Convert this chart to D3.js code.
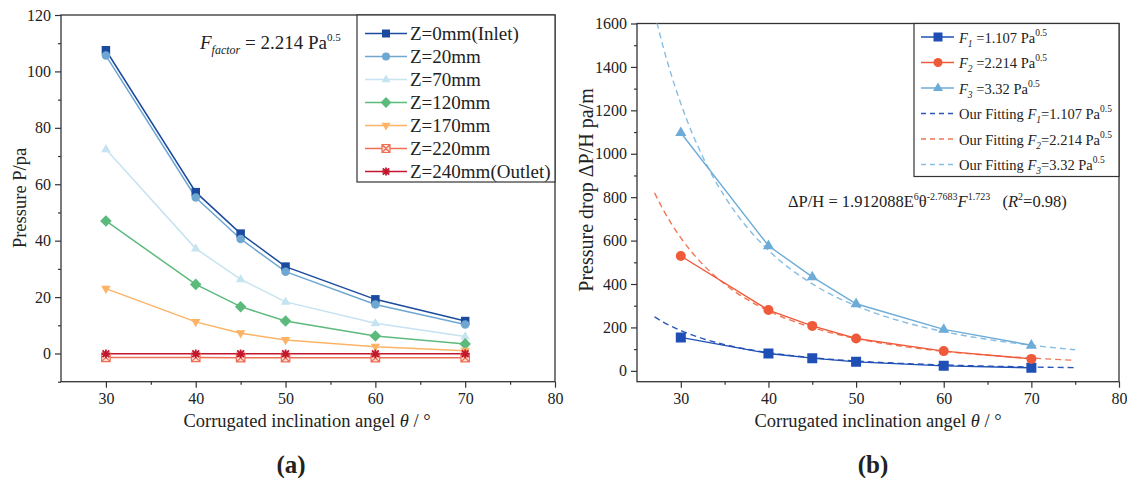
<!DOCTYPE html>
<html><head><meta charset="utf-8">
<script src="https://cdn.jsdelivr.net/npm/d3@7"></script>
<style>
html,body{margin:0;padding:0;background:#fff;}
svg text{font-family:"Liberation Serif","Times New Roman",serif;fill:#222;}
</style></head>
<body><svg id="c" width="1127" height="478"></svg>
<script>
// ---------- DATA ----------
const thetaA = [30, 40, 45, 50, 60, 70];
const zLabels = ["Z=0mm(Inlet)", "Z=20mm", "Z=70mm", "Z=120mm", "Z=170mm", "Z=220mm", "Z=240mm(Outlet)"];
const z0   = [107.5, 57.2, 42.5, 30.8, 19.2, 11.5];
const z20  = [105.6, 55.3, 40.6, 29.0, 17.4, 10.3];
const z70  = [72.4, 37.2, 26.3, 18.3, 10.7, 6.0];
const z120 = [47.0, 24.5, 16.6, 11.5, 6.2, 3.4];
const z170 = [23.0, 11.2, 7.2, 4.8, 2.4, 1.0];
const z220 = [-1.4, -1.4, -1.5, -1.5, -1.5, -1.5];
const z240 = [-0.1, -0.1, -0.1, -0.1, -0.1, -0.1];
const xTicks = [30, 40, 50, 60, 70, 80];
const yTicksA = [0, 20, 40, 60, 80, 100, 120];
const yTicksB = [0, 200, 400, 600, 800, 1000, 1200, 1400, 1600];

const thetaB = [30, 40, 45, 50, 60, 70];
const f1 = [154, 80, 58.5, 41.5, 23, 14];
const f2 = [529, 280, 207, 149, 91, 55];
const f3 = [1097, 576, 433, 309, 191, 118];
const fitTheta = [27, 28, 30, 32.5, 35, 37.5, 40, 45, 50, 55, 60, 65, 70, 75];
const fit1 = [248.4, 224.6, 185.5, 148.7, 121.1, 100.0, 83.7, 60.4, 45.1, 34.6, 27.2, 21.8, 17.8, 14.7];
const fit2 = [819.9, 741.4, 612.5, 490.7, 399.7, 330.2, 276.2, 199.3, 148.9, 114.4, 89.9, 72.0, 58.7, 48.5];
const fit3 = [1648, 1490.2, 1231.0, 986.4, 803.4, 663.7, 555.2, 400.6, 299.3, 229.9, 180.7, 144.8, 117.9, 97.4];

// ---------- STYLE ----------
const svg = d3.select("#c");
const axisCol = "#333";
const colsA = ["#1b4b9f", "#6ea7d1", "#c5e3f0", "#5dba7d", "#fdb366", "#ef6f55", "#c3172e"];
const symsA = ["square", "circle", "triangle", "diamond", "tridown", "sqx", "ast"];
const colsB = ["#1f4fb4", "#ef5b3a", "#6eacd8"];
const colsFit = ["#2a56b8", "#f07756", "#86bde3"];

function markerPath(type, s) {
  const h = s / 2;
  switch (type) {
    case "square": return `M${-h},${-h}H${h}V${h}H${-h}Z`;
    case "circle": return d3.symbol(d3.symbolCircle, Math.PI * h * h)();
    case "triangle": { const r = s * 0.62; return `M0,${-r}L${r*0.9},${r*0.55}L${-r*0.9},${r*0.55}Z`; }
    case "tridown": { const r = s * 0.62; return `M0,${r}L${r*0.9},${-r*0.55}L${-r*0.9},${-r*0.55}Z`; }
    case "diamond": { const r = s * 0.68; return `M0,${-r}L${r},0L0,${r}L${-r},0Z`; }
    case "sqx": return `M${-h},${-h}H${h}V${h}H${-h}Z M${-h},${-h}L${h},${h} M${h},${-h}L${-h},${h}`;
    case "ast": return `M${-h},0H${h} M0,${-h}V${h} M${-h*0.8},${-h*0.8}L${h*0.8},${h*0.8} M${h*0.8},${-h*0.8}L${-h*0.8},${h*0.8}`;
  }
}
function drawMarker(g, type, col, x, y, s) {
  const p = g.append("path").attr("d", markerPath(type, s)).attr("transform", `translate(${x},${y})`);
  if (type === "sqx") p.attr("fill", "#fde3dc").attr("stroke", col).attr("stroke-width", 1.2);
  else if (type === "ast") p.attr("fill", "none").attr("stroke", col).attr("stroke-width", 1.8);
  else p.attr("fill", col).attr("stroke", "none");
}

function frameAxes(x, y, xMinor, yTicks, yMinor, tickFont) {
  const [x0, x1] = x.range(), [y0, y1] = y.range();
  const g = svg.append("g");
  g.append("g").attr("transform", `translate(0,${y0})`)
    .call(d3.axisBottom(x).tickValues(xTicks).tickSize(6).tickPadding(5).tickFormat(d3.format("d")));
  g.append("g").attr("transform", `translate(0,${y0})`)
    .call(d3.axisBottom(x).tickValues(xMinor).tickSize(3).tickFormat(""));
  g.append("g").attr("transform", `translate(${x0},0)`)
    .call(d3.axisLeft(y).tickValues(yTicks).tickSize(6).tickPadding(4).tickFormat(d3.format("d")));
  g.append("g").attr("transform", `translate(${x0},0)`)
    .call(d3.axisLeft(y).tickValues(yMinor).tickSize(3).tickFormat(""));
  g.selectAll(".domain").remove();
  g.selectAll("g").attr("font-family", null);
  g.selectAll(".tick line").attr("stroke", axisCol).attr("stroke-width", 1.2);
  g.selectAll(".tick text").attr("font-size", tickFont).attr("fill", "#222");
  g.append("rect").attr("x", x0).attr("y", y1).attr("width", x1 - x0).attr("height", y0 - y1)
    .attr("fill", "none").attr("stroke", axisCol).attr("stroke-width", 1.3);
}

// ---------- PANEL (a) ----------
const xA = d3.scaleLinear().domain([25, 80]).range([61, 555]);
const yA = d3.scaleLinear().domain([-10, 120]).range([381.7, 15]);
frameAxes(xA, yA, [35, 45, 55, 65, 75], yTicksA, [-10, 10, 30, 50, 70, 90, 110], 16);

const seriesA = [z0, z20, z70, z120, z170, z220, z240];
const gA = svg.append("g");
const lineA = d3.line().x((d, i) => xA(thetaA[i])).y(d => yA(d));
seriesA.forEach((s, k) => {
  gA.append("path").datum(s).attr("d", lineA).attr("fill", "none")
    .attr("stroke", colsA[k]).attr("stroke-width", 1.5);
});
seriesA.forEach((s, k) => {
  s.forEach((v, i) => drawMarker(gA, symsA[k], colsA[k], xA(thetaA[i]), yA(v), 8.5));
});

// legend a
const legA = svg.append("g");
legA.append("rect").attr("x", 357).attr("y", 15).attr("width", 198).attr("height", 167)
  .attr("fill", "#fff").attr("stroke", axisCol).attr("stroke-width", 1.2);
zLabels.forEach((t, k) => {
  const yy = 33.5 + k * 23;
  legA.append("line").attr("x1", 365).attr("x2", 407).attr("y1", yy).attr("y2", yy)
    .attr("stroke", colsA[k]).attr("stroke-width", 1.5);
  drawMarker(legA, symsA[k], colsA[k], 386, yy, 8);
  legA.append("text").attr("x", 410).attr("y", yy + 6.5).attr("font-size", 19).text(t);
});

// annotation a
const tA = svg.append("text").attr("x", 200).attr("y", 49).attr("font-size", 19);
tA.append("tspan").attr("font-style", "italic").text("F");
tA.append("tspan").attr("font-style", "italic").attr("font-size", 12).attr("dy", 5).text("factor");
tA.append("tspan").attr("dy", -5).text(" = 2.214 Pa");
tA.append("tspan").attr("font-size", 11).attr("dy", -8).text("0.5");

// axis titles a
svg.append("text").attr("x", 307).attr("y", 427).attr("text-anchor", "middle").attr("font-size", 18.5)
  .html('Corrugated inclination angel <tspan font-style="italic">θ</tspan> / °');
svg.append("text").attr("transform", "translate(26,198) rotate(-90)").attr("text-anchor", "middle")
  .attr("font-size", 18.5).text("Pressure P/pa");
svg.append("text").attr("x", 291).attr("y", 473).attr("text-anchor", "middle").attr("font-size", 25)
  .attr("font-weight", "bold").text("(a)");

// ---------- PANEL (b) ----------
const xB = d3.scaleLinear().domain([25, 80]).range([637, 1119]);
const yB = d3.scaleLinear().domain([-50, 1600]).range([381.7, 23.5]);
frameAxes(xB, yB, [35, 45, 55, 65, 75], yTicksB, [100, 300, 500, 700, 900, 1100, 1300, 1500], 16);

svg.append("clipPath").attr("id", "clipB").append("rect")
  .attr("x", 637).attr("y", 23.5).attr("width", 482).attr("height", 358.2);
const gB = svg.append("g").attr("clip-path", "url(#clipB)");
const lineFit = d3.line().curve(d3.curveMonotoneX).x((d, i) => xB(fitTheta[i])).y(d => yB(d));
[fit1, fit2, fit3].forEach((s, k) => {
  gB.append("path").datum(s).attr("d", lineFit).attr("fill", "none")
    .attr("stroke", colsFit[k]).attr("stroke-width", 1.4).attr("stroke-dasharray", "6,4");
});
const lineB = d3.line().x((d, i) => xB(thetaB[i])).y(d => yB(d));
const symsB = ["square", "circle", "triangle"];
[f1, f2, f3].forEach((s, k) => {
  gB.append("path").datum(s).attr("d", lineB).attr("fill", "none")
    .attr("stroke", colsB[k]).attr("stroke-width", 1.4);
});
[f1, f2, f3].forEach((s, k) => {
  s.forEach((v, i) => drawMarker(gB, symsB[k], colsB[k], xB(thetaB[i]), yB(v), 10));
});

// legend b
const legB = svg.append("g");
legB.append("rect").attr("x", 914).attr("y", 23.5).attr("width", 205).attr("height", 153)
  .attr("fill", "#fff").attr("stroke", axisCol).attr("stroke-width", 1.2);
const legBItems = [
  {pre: "", sub: "1", sp: " ", val: "=1.107 Pa", dash: false, k: 0},
  {pre: "", sub: "2", sp: " ", val: "=2.214 Pa", dash: false, k: 1},
  {pre: "", sub: "3", sp: " ", val: "=3.32 Pa", dash: false, k: 2},
  {pre: "Our Fitting ", sub: "1", sp: "", val: "=1.107 Pa", dash: true, k: 0},
  {pre: "Our Fitting ", sub: "2", sp: "", val: "=2.214 Pa", dash: true, k: 1},
  {pre: "Our Fitting ", sub: "3", sp: "", val: "=3.32 Pa", dash: true, k: 2}
];
legBItems.forEach((it, r) => {
  const yy = 37 + r * 25.5;
  const ln = legB.append("line").attr("x1", 921).attr("x2", 954).attr("y1", yy).attr("y2", yy)
    .attr("stroke", it.dash ? colsFit[it.k] : colsB[it.k]).attr("stroke-width", 1.4);
  if (it.dash) ln.attr("stroke-dasharray", "5,4");
  else drawMarker(legB, symsB[it.k], colsB[it.k], 938, yy, 9);
  const t = legB.append("text").attr("x", 959).attr("y", yy + 5.5).attr("font-size", 14.5);
  if (it.pre) t.append("tspan").text(it.pre);
  t.append("tspan").attr("font-style", "italic").text("F");
  t.append("tspan").attr("font-style", "italic").attr("font-size", 9.5).attr("dy", 4).text(it.sub);
  t.append("tspan").attr("dy", -4).text(it.sp + it.val);
  t.append("tspan").attr("font-size", 9.5).attr("dy", -7).text("0.5");
});

// equation
const eq = svg.append("text").attr("x", 788).attr("y", 207).attr("font-size", 16.5);
eq.append("tspan").text("ΔP/H = 1.912088E");
eq.append("tspan").attr("font-size", 10).attr("dy", -7).text("6");
eq.append("tspan").attr("dy", 7).text("θ");
eq.append("tspan").attr("font-size", 10).attr("dy", -7).text("-2.7683");
eq.append("tspan").attr("dy", 7).attr("font-style", "italic").text("F");
eq.append("tspan").attr("font-size", 10).attr("dy", -7).text("1.723");
eq.append("tspan").attr("dy", 7).text("\u00a0\u00a0\u00a0(");
eq.append("tspan").attr("font-style", "italic").text("R");
eq.append("tspan").attr("font-size", 10).attr("dy", -7).text("2");
eq.append("tspan").attr("dy", 7).text("=0.98)");

// axis titles b
svg.append("text").attr("x", 878).attr("y", 427).attr("text-anchor", "middle").attr("font-size", 18.5)
  .html('Corrugated inclination angel <tspan font-style="italic">θ</tspan> / °');
svg.append("text").attr("transform", "translate(593,190) rotate(-90)").attr("text-anchor", "middle")
  .attr("font-size", 20).text("Pressure drop ΔP/H pa/m");
svg.append("text").attr("x", 873).attr("y", 473).attr("text-anchor", "middle").attr("font-size", 25)
  .attr("font-weight", "bold").text("(b)");
</script></body></html>
